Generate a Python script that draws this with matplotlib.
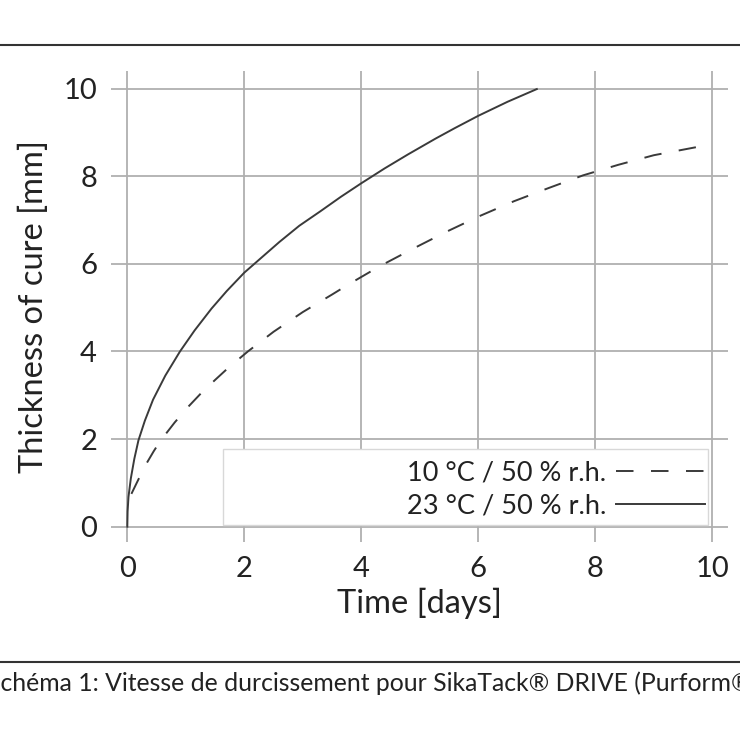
import matplotlib
matplotlib.use("Agg")
import matplotlib.pyplot as plt
from matplotlib.patches import Rectangle
from matplotlib.lines import Line2D

plt.rcParams['font.family'] = ['Lato', 'DejaVu Sans']

# 23 °C / 50 % r.h. (solid)
t_23 = [0, 0.005, 0.02, 0.06, 0.12, 0.19, 0.3, 0.44, 0.65, 0.9, 1.15, 1.44, 1.7, 2.0, 2.3, 2.6,
        2.94, 3.3, 3.65, 4.0, 4.4, 4.8, 5.27, 5.6, 6.0, 6.5, 7.0]
d_23 = [0, 0.35, 0.68, 1.1, 1.55, 1.97, 2.42, 2.9, 3.45, 4.0, 4.48, 4.98, 5.38, 5.8, 6.15, 6.5,
        6.87, 7.2, 7.53, 7.84, 8.18, 8.5, 8.86, 9.1, 9.38, 9.7, 9.99]

# 10 °C / 50 % r.h. (dashed)
t_10 = [0.07, 0.15, 0.3, 0.45, 0.56, 0.81, 1.05, 1.27, 1.5, 1.72, 2.06, 2.5, 3.0, 3.5, 3.78,
        4.32, 4.89, 5.45, 6.02, 6.61, 7.2, 7.79, 8.39, 9.0, 9.79]
d_10 = [0.75, 0.97, 1.38, 1.72, 1.95, 2.38, 2.75, 3.06, 3.35, 3.62, 4.0, 4.45, 4.9, 5.3, 5.53,
        5.95, 6.35, 6.73, 7.09, 7.43, 7.73, 8.02, 8.26, 8.48, 8.68]

labels = ['10 °C / 50 % r.h.', '23 °C / 50 % r.h.']
ticks = [0, 2, 4, 6, 8, 10]

fig = plt.figure(figsize=(7.4, 7.4), dpi=100)
ax = fig.add_axes([0.1499, 0.2669, 0.834, 0.6376])

line_col = '#3a3a3a'
l10, = ax.plot(t_10, d_10, color=line_col, lw=1.4, dashes=(9, 9), label=labels[0])
l23, = ax.plot(t_23, d_23, color=line_col, lw=1.4, label=labels[1])

ax.set_xlim(-0.28, 10.27)
ax.set_ylim(-0.36, 10.41)
ax.set_xticks(ticks)
ax.set_yticks(ticks)
ax.grid(True, color='#b0b0b0', lw=1.3)
ax.set_axisbelow(True)
for s in ax.spines.values():
    s.set_visible(False)
ax.tick_params(length=0, labelsize=21, labelcolor='#222222', pad=10)
ax.set_xlabel('Time [days]', fontsize=23.5, color='#222222', labelpad=4)
ax.set_ylabel('Thickness of cure [mm]', fontsize=23.5, color='#222222', labelpad=10)

# legend frame
ax.add_patch(Rectangle((0.1817, 0.037), 0.7859, 0.161, transform=ax.transAxes,
                       facecolor='white', edgecolor='#d8d8d8', lw=1.0, zorder=3))
leg = ax.legend(handles=[l10, l23], loc='lower right', bbox_to_anchor=(0.963, 0.05),
                frameon=False, markerfirst=False, fontsize=19.5, handlelength=3.3,
                handletextpad=0.35, labelspacing=0.32, borderpad=0, borderaxespad=0)
leg.set_zorder(4)
for t in leg.get_texts():
    t.set_color('#222222')

# page rules and caption
fig.add_artist(Line2D([0, 1], [1 - 45 / 740, 1 - 45 / 740], color='#333333', lw=1.5))
fig.add_artist(Line2D([0, 1], [1 - 662 / 740, 1 - 662 / 740], color='#333333', lw=1.5))
fig.text(-0.017, 1 - 691 / 740, 'Schéma 1: Vitesse de durcissement pour SikaTack® DRIVE (Purform®)',
         fontsize=17.8, color='#222222', ha='left', va='baseline')

fig.savefig('out.png', dpi=100)
